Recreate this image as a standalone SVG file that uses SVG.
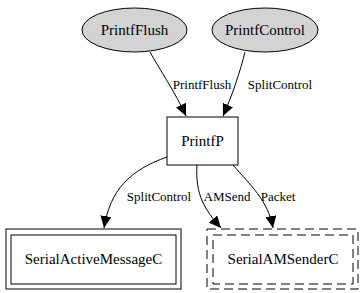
<svg xmlns="http://www.w3.org/2000/svg" width="363" height="293" viewBox="0 0 363 293">
  <style>
    .node text { font-family: "Liberation Serif", "Times New Roman", serif; font-size: 15px; fill: #000; text-anchor: middle; }
    .edge path { fill: none; stroke: #000; stroke-width: 1; }
    .edge text { font-family: "Liberation Serif", "Times New Roman", serif; font-size: 13px; fill: #000; text-anchor: middle; }
    .ell { fill: #d3d3d3; stroke: #000; stroke-width: 1; }
    .box { fill: #fff; stroke: #000; stroke-width: 1; }
    .dash { fill: none; stroke: #000; stroke-width: 1; stroke-dasharray: 9 5; }
  </style>
  <defs>
    <marker id="arrow" viewBox="0 0 12 11" refX="12" refY="5.5" markerWidth="12" markerHeight="11" markerUnits="userSpaceOnUse" orient="auto">
      <path d="M0,0 L12,5.5 L0,11 Z" fill="#000"/>
    </marker>
  </defs>
  <rect width="363" height="293" fill="#fff"/>

  <g id="connectors">
    <g class="edge">
      <path d="M150,52 C160,70 175,92 186,116" marker-end="url(#arrow)"/>
      <text x="202" y="89">PrintfFlush</text>
    </g>
    <g class="edge">
      <path d="M245,52 C240,72 232,96 223,116" marker-end="url(#arrow)"/>
      <text x="280" y="89">SplitControl</text>
    </g>
    <g class="edge">
      <path d="M167,157 C130,170 110,190 104,228" marker-end="url(#arrow)"/>
      <text x="159" y="201">SplitControl</text>
    </g>
    <g class="edge">
      <path d="M197,165 C195,195 205,210 221,228" marker-end="url(#arrow)"/>
      <text x="227" y="201">AMSend</text>
    </g>
    <g class="edge">
      <path d="M233,165 C250,185 268,200 273,228" marker-end="url(#arrow)"/>
      <text x="278" y="201">Packet</text>
    </g>
  </g>

  <g id="PrintfFlush" class="node">
    <ellipse class="ell" cx="134.5" cy="30" rx="52.5" ry="22"/>
    <text x="134.5" y="35">PrintfFlush</text>
  </g>
  <g id="PrintfControl" class="node">
    <ellipse class="ell" cx="265" cy="30" rx="53" ry="22"/>
    <text x="265" y="35">PrintfControl</text>
  </g>
  <g id="PrintfP" class="node">
    <rect class="box" x="167" y="117" width="71" height="48"/>
    <text x="202.5" y="146">PrintfP</text>
  </g>
  <g id="SerialActiveMessageC" class="node">
    <rect class="box" x="6" y="229" width="175" height="60"/>
    <rect class="box" x="11" y="235" width="165" height="49"/>
    <text x="93.5" y="264">SerialActiveMessageC</text>
  </g>
  <g id="SerialAMSenderC" class="node">
    <rect class="dash" x="207" y="229" width="151" height="60"/>
    <rect class="dash" x="213" y="235" width="140" height="49"/>
    <text x="283" y="264">SerialAMSenderC</text>
  </g>
</svg>
